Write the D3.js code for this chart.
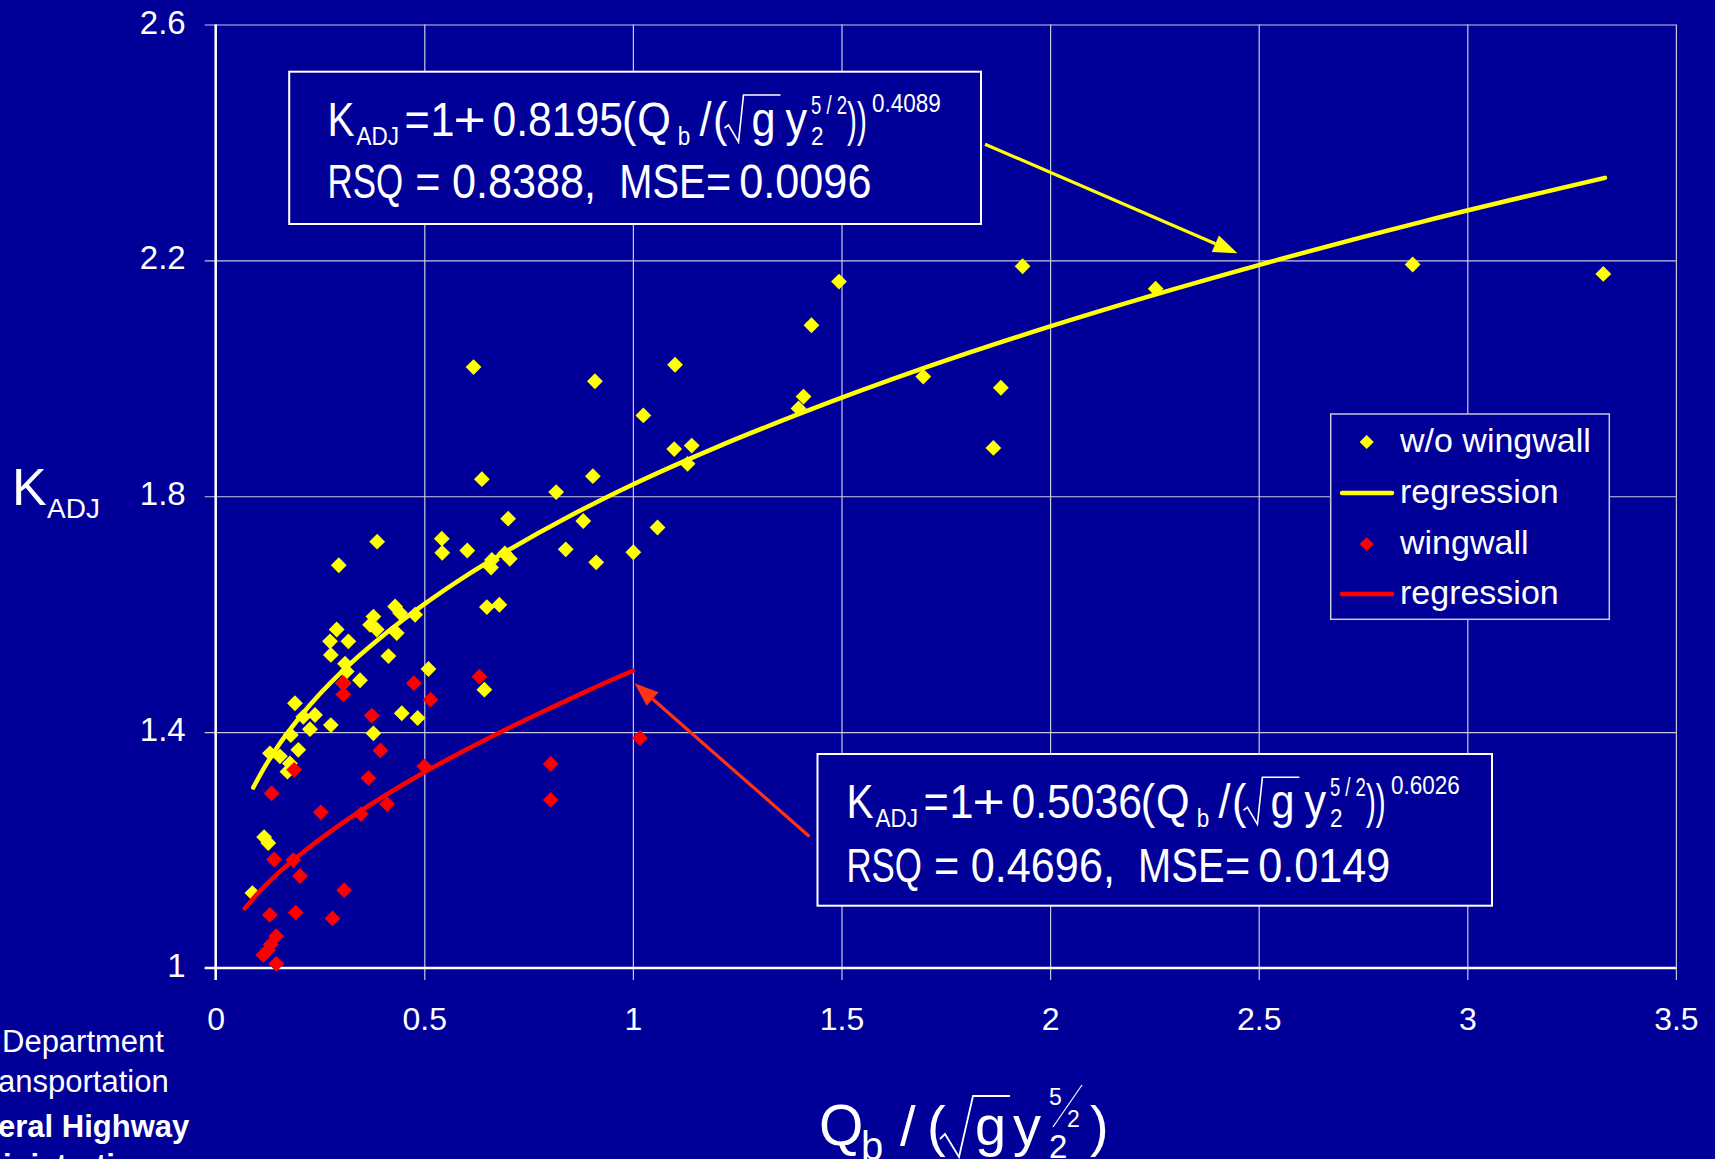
<!DOCTYPE html>
<html>
<head>
<meta charset="utf-8">
<script src="https://cdn.jsdelivr.net/npm/d3@7"></script>
<style>
html, body { margin:0; padding:0; background:#000099; overflow:hidden; }
svg { display:block; }
text { font-family: "Liberation Sans", Arial, sans-serif; fill:#fff; }
</style>
</head>
<body>
<svg id="chart" width="1715" height="1159"></svg>
<script>
// w/o wingwall (yellow) points
const dryX = [0.088,0.116,0.126,0.130,0.154,0.172,0.178,0.180,0.190,0.198,0.210,0.226,0.238,0.274,0.276,0.276,0.290,0.295,0.306,0.310,
  0.314,0.318,0.346,0.370,0.378,0.378,0.386,0.387,0.414,0.430,0.434,0.442,0.446,0.478,0.484,0.510,0.542,0.543,0.603,0.618,
  0.638,0.644,0.650,0.660,0.662,0.680,0.693,0.701,0.705,0.816,0.839,0.881,0.904,0.909,0.912,1.001,1.025,1.059,1.099,1.101,
  1.131,1.141,1.397,1.409,1.428,1.494,1.696,1.864,1.882,1.934,2.253,2.869,3.326];
const dryK = [1.127,1.222,1.212,1.364,1.359,1.333,1.347,1.395,1.449,1.370,1.426,1.405,1.429,1.554,1.531,1.412,1.574,1.683,1.483,1.516,
  1.503,1.554,1.488,1.582,1.596,1.398,1.574,1.723,1.529,1.613,1.568,1.602,1.432,1.599,1.424,1.507,1.728,1.704,1.708,2.019,
  1.829,1.472,1.612,1.679,1.692,1.616,1.703,1.762,1.694,1.807,1.710,1.758,1.834,1.995,1.688,1.705,1.937,1.747,1.880,2.023,
  1.855,1.886,1.949,1.969,2.090,2.164,2.003,1.882,1.984,2.190,2.152,2.193,2.177];

// wingwall (red) points
const wingX = [0.114,0.125,0.132,0.145,0.145,0.130,0.134,0.140,0.186,0.188,0.192,0.202,0.252,0.280,0.306,0.306,0.308,0.348,0.366,0.374,
  0.395,0.411,0.475,0.500,0.515,0.632,0.803,0.803,1.017];
const wingK = [1.022,1.030,1.040,1.054,1.007,1.090,1.296,1.184,1.183,1.336,1.094,1.156,1.264,1.084,1.483,1.464,1.132,1.261,1.322,1.428,
  1.369,1.278,1.483,1.342,1.455,1.494,1.346,1.285,1.390];

// regression curves as drawn
const dryFitX = [0.09,0.12,0.15,0.2,0.25,0.3,0.4,0.5,0.6,0.7,0.85,1.0,1.2,1.4,1.7,2.0,2.5,2.9,3.33];
const dryFitK = [1.306,1.344,1.377,1.424,1.465,1.501,1.563,1.617,1.665,1.708,1.767,1.820,1.883,1.940,2.018,2.088,2.192,2.267,2.340];
const wingFitX = [0.07,0.1,0.15,0.2,0.3,0.4,0.5,0.6,0.7,0.8,0.9,1.0];
const wingFitK = [1.101,1.126,1.161,1.191,1.244,1.290,1.332,1.370,1.406,1.440,1.473,1.504];

const xTicks = [0,0.5,1,1.5,2,2.5,3,3.5];
const xTickLabels = ["0","0.5","1","1.5","2","2.5","3","3.5"];
const yTicks = [1,1.4,1.8,2.2,2.6];
const yTickLabels = ["1","1.4","1.8","2.2","2.6"];
const legendLabels = ["w/o wingwall","regression","wingwall","regression"];

const dryEq = {coef:"0.8195", exp:"0.4089", rsq:"0.8388,", mse:"0.0096"};
const wingEq = {coef:"0.5036", exp:"0.6026", rsq:"0.4696,", mse:"0.0149"};

const YELLOW = "#ffff00", RED = "#ff0000", BG = "#000099";

const svg = d3.select("#chart");
svg.append("rect").attr("width",1715).attr("height",1159).attr("fill",BG);

const x = d3.scaleLinear().domain([0,3.5]).range([215.7,1675.9]);
const y = d3.scaleLinear().domain([1,2.6]).range([968,24.5]);
const W = x(3.5)-x(0), H = y(1)-y(2.6);

// grid + tick labels
const yAxis = d3.axisLeft(y).tickValues(yTicks).tickFormat((d,i)=>yTickLabels[i])
  .tickSize(-(W+11)).tickPadding(19);
svg.append("g").attr("transform",`translate(${x(0)-11},0)`).call(yAxis)
  .call(g=>g.select(".domain").remove())
  .call(g=>g.selectAll("line").attr("stroke","#c8c8e0").attr("stroke-width",1.2))
  .call(g=>g.selectAll("text").attr("dy","0.26em").attr("font-size",33).attr("fill","#fff")
    .attr("font-family","Liberation Sans, Arial, sans-serif"));

const xAxis = d3.axisBottom(x).tickValues(xTicks).tickFormat((d,i)=>xTickLabels[i])
  .tickSize(-(H+12)).tickPadding(27);
svg.append("g").attr("transform",`translate(0,${y(1)+12})`).call(xAxis)
  .call(g=>g.select(".domain").remove())
  .call(g=>g.selectAll("line").attr("stroke","#c8c8e0").attr("stroke-width",1.2))
  .call(g=>g.selectAll("text").attr("font-size",32).attr("fill","#fff")
    .attr("font-family","Liberation Sans, Arial, sans-serif"));

// axis lines
svg.append("line").attr("x1",x(0)).attr("x2",x(0)).attr("y1",y(2.6)).attr("y2",y(1)+12)
  .attr("stroke","#fff").attr("stroke-width",2.5);
svg.append("line").attr("x1",x(0)-11).attr("x2",x(3.5)).attr("y1",y(1)).attr("y2",y(1))
  .attr("stroke","#fff").attr("stroke-width",2.5);

const diamond = d3.symbol().type(d3.symbolSquare).size(125);
const fitLine = d3.line().x(d=>x(d[0])).y(d=>y(d[1])).curve(d3.curveMonotoneX);

function drawPoints(xs, ks, color){
  svg.append("g").selectAll("path").data(xs.map((v,i)=>[v,ks[i]])).enter().append("path")
    .attr("d", diamond)
    .attr("transform", d=>`translate(${x(d[0])},${y(d[1])}) rotate(45)`)
    .attr("fill", color);
}
function drawFit(xs, ks, color){
  svg.append("path").datum(xs.map((v,i)=>[v,ks[i]]))
    .attr("d", fitLine).attr("fill","none").attr("stroke",color)
    .attr("stroke-width",4.5).attr("stroke-linecap","round");
}
drawPoints(dryX, dryK, YELLOW);
drawFit(dryFitX, dryFitK, YELLOW);
drawPoints(wingX, wingK, RED);
drawFit(wingFitX, wingFitK, RED);

// arrows (data coordinates)
function arrow(from, to, color){
  const x1=x(from[0]), y1=y(from[1]), x2=x(to[0]), y2=y(to[1]);
  const a = Math.atan2(y2-y1, x2-x1), L = 24, hw = 9;
  const bx = x2 - L*Math.cos(a), by = y2 - L*Math.sin(a);
  svg.append("line").attr("x1",x1).attr("y1",y1).attr("x2",bx).attr("y2",by)
    .attr("stroke",color).attr("stroke-width",3.2);
  svg.append("path").attr("fill",color)
    .attr("d",`M${x2},${y2}L${bx-hw*Math.sin(a)},${by+hw*Math.cos(a)}L${bx+hw*Math.sin(a)},${by-hw*Math.cos(a)}Z`);
}
arrow([1.844,2.397],[2.449,2.212],YELLOW);
arrow([1.423,1.223],[1.004,1.483],"#ff3311");

// equation boxes: a slightly condensed Arial-like look (scaleX 0.9)
const SX = 0.9;
function piece(g, str, px, py, size, tl){
  const t = g.append("text").attr("transform",`translate(${px},${py}) scale(${SX},1)`)
    .attr("font-size",size).text(str);
  if(tl) t.attr("textLength",tl).attr("lengthAdjust","spacingAndGlyphs");
  return t;
}
function eqBox(bx, by, bw, bh, x0, b1, b2, eq){
  const g = svg.append("g");
  g.append("rect").attr("x",bx).attr("y",by).attr("width",bw).attr("height",bh)
    .attr("fill",BG).attr("stroke","#fff").attr("stroke-width",2);
  const big = 48, small = 25;
  const pieces = [
    ["K",-3,0,big,30],["ADJ",26,9,small],["=",74,0,big],["1",100,0,big],["+",123,0,big,36],
    [eq.coef,162,0,big,145],["(",291.4,0,big],["Q",306.7,0,big],["b",347.3,9,small],["/",369,0,big],
    ["(",382.6,0,big],["g",421,0,big],["y",455,0,big],["2",480.5,9,small],["5 / 2",480.5,-22,small,40],
    ["))",516.5,0,big,22],[eq.exp,541.5,-24,small]
  ];
  pieces.forEach(p=>piece(g, p[0], x0+p[1], b1+p[2], p[3], p[4]));
  g.append("path").attr("fill","none").attr("stroke","#fff").attr("stroke-width",1.6)
    .attr("d",`M${x0+394},${b1-8}L${x0+398},${b1-11}L${x0+408},${b1+6}L${x0+413},${b1-41}L${x0+450},${b1-41}`);
  const line2 = [["RSQ",-3,84],["=",84.7],[eq.rsq,121.4],["MSE",288.7,96],["=",375.5],[eq.mse,408.8]];
  line2.forEach(p=>piece(g, p[0], x0+p[1], b2, big, p[2]));
}
eqBox(289.2,71.7,691.8,152.3,330.5,136,198,dryEq);
eqBox(817.5,754,674.5,151.7,849.4,818.3,881.7,wingEq);

// legend
const lg = svg.append("g");
lg.append("rect").attr("x",1330.7).attr("y",414).attr("width",278.6).attr("height",205.3)
  .attr("fill",BG).attr("stroke","#c8c8e0").attr("stroke-width",1.5);
const rowY = [442,493,544,594];
const legendKind = ["pt","ln","pt","ln"];
const legendColor = [YELLOW,YELLOW,RED,RED];
legendLabels.forEach((lab,i)=>{
  if(legendKind[i]==="pt"){
    lg.append("path").attr("d",d3.symbol().type(d3.symbolSquare).size(100))
      .attr("transform",`translate(1366.7,${rowY[i]}) rotate(45)`).attr("fill",legendColor[i]);
  } else {
    lg.append("line").attr("x1",1342).attr("x2",1392).attr("y1",rowY[i]).attr("y2",rowY[i])
      .attr("stroke",legendColor[i]).attr("stroke-width",4.5).attr("stroke-linecap","round");
  }
  lg.append("text").attr("x",1400).attr("y",rowY[i]+9.5).attr("font-size",34).text(lab);
});

// axis titles
svg.append("text").attr("x",12).attr("y",505).attr("font-size",52).text("K");
svg.append("text").attr("x",47).attr("y",518).attr("font-size",28).text("ADJ");

const xl = svg.append("g");
xl.append("text").attr("x",819).attr("y",1145).attr("font-size",57).text("Q");
xl.append("text").attr("x",861).attr("y",1160).attr("font-size",40).text("b");
xl.append("text").attr("x",900).attr("y",1145).attr("font-size",56).text("/");
xl.append("text").attr("x",927).attr("y",1145).attr("font-size",56).text("(");
xl.append("path").attr("fill","none").attr("stroke","#fff").attr("stroke-width",1.8)
  .attr("d","M940,1139L945,1134L959,1157L973,1096L1010,1096");
xl.append("text").attr("x",975).attr("y",1145).attr("font-size",56).text("g");
xl.append("text").attr("x",1013).attr("y",1145).attr("font-size",56).text("y");
xl.append("text").attr("x",1049).attr("y",1105).attr("font-size",23).text("5");
xl.append("line").attr("x1",1053).attr("y1",1127).attr("x2",1082).attr("y2",1085)
  .attr("stroke","#fff").attr("stroke-width",1.2);
xl.append("text").attr("x",1067).attr("y",1127).attr("font-size",23).text("2");
xl.append("text").attr("x",1049).attr("y",1158).attr("font-size",33).text("2");
xl.append("text").attr("x",1090).attr("y",1145).attr("font-size",56).text(")");

// clipped agency text at bottom left
svg.append("text").attr("x",2).attr("y",1052).attr("font-size",31).text("Department");
svg.append("text").attr("x",-2).attr("y",1092).attr("font-size",31).text("ansportation");
svg.append("text").attr("x",-2).attr("y",1137).attr("font-size",31).attr("font-weight","bold").text("eral Highway");
svg.append("text").attr("x",3).attr("y",1176).attr("font-size",31).attr("font-weight","bold").text("inistration");
</script>
</body>
</html>
